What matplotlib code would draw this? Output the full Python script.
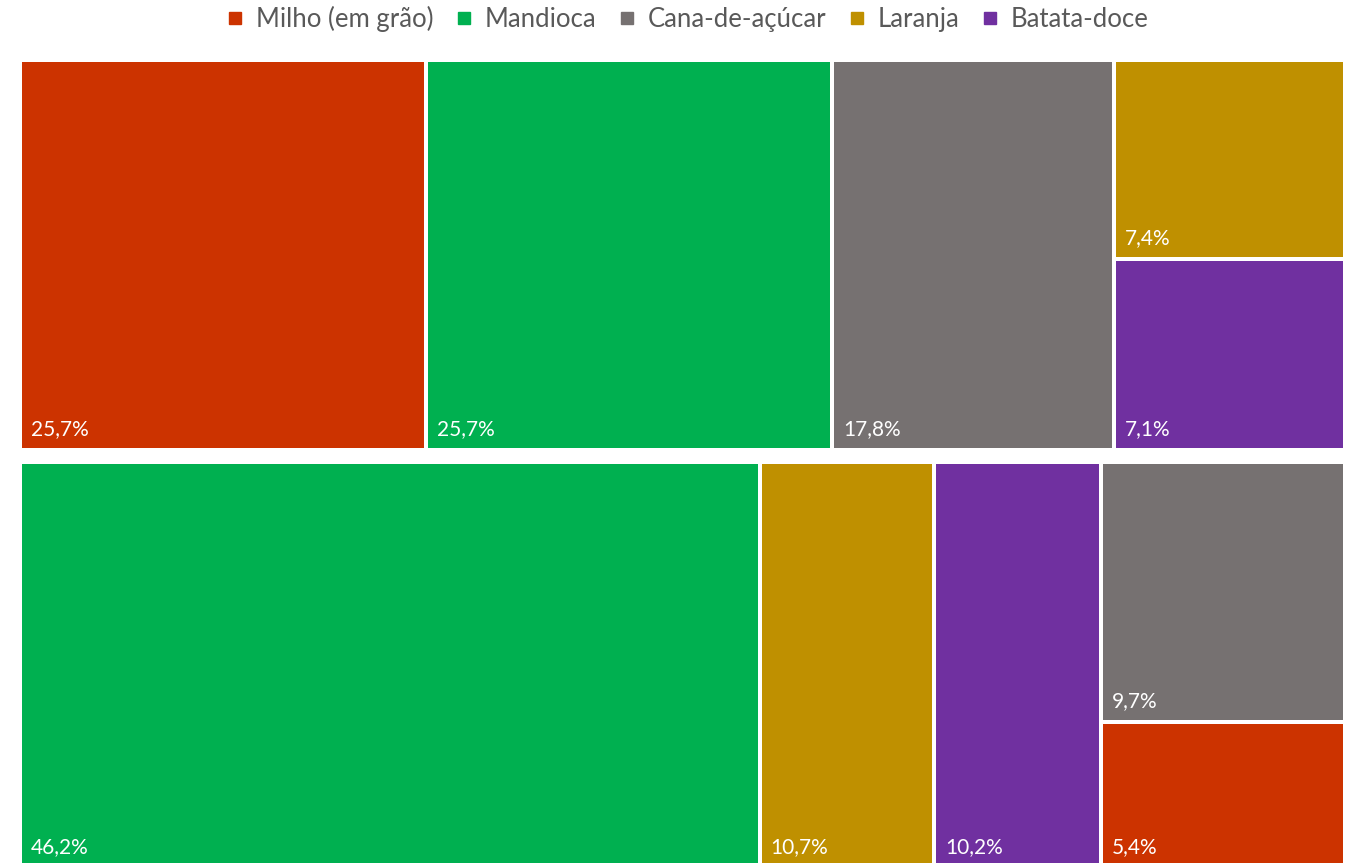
import matplotlib.pyplot as plt
from matplotlib.patches import Rectangle
from matplotlib.lines import Line2D

plt.rcParams['font.family'] = ['Lato', 'DejaVu Sans']

categories = ["Milho (em grão)", "Mandioca", "Cana-de-açúcar", "Laranja", "Batata-doce"]
colors = ["#CC3300", "#00B050", "#767171", "#BF9000", "#7030A0"]

# top group, columns left to right (stacked items inside a column)
top_cols = [["Milho (em grão)"], ["Mandioca"], ["Cana-de-açúcar"], ["Laranja", "Batata-doce"]]
top_vals = [[25.7], [25.7], [17.8], [7.4, 7.1]]

# bottom group
bot_cols = [["Mandioca"], ["Laranja"], ["Batata-doce"], ["Cana-de-açúcar", "Milho (em grão)"]]
bot_vals = [[46.2], [10.7], [10.2], [9.7, 5.4]]

group_weight = [0.49, 0.51]

color_of = dict(zip(categories, colors))

fig = plt.figure(figsize=(13.51, 8.63), dpi=100)
ax = fig.add_axes([0, 0, 1, 1])
ax.set_xlim(0, 1351)
ax.set_ylim(863, 0)
ax.axis("off")

left, right, top, bottom = 22, 1343, 62, 866
gap, group_gap = 4, 16


def draw_group(cols, vals, y0, y1):
    total = sum(sum(v) for v in vals)
    avail_w = (right - left) - gap * (len(cols) - 1)
    x = left
    for names, v in zip(cols, vals):
        w = avail_w * sum(v) / total
        avail_h = (y1 - y0) - gap * (len(v) - 1)
        y = y0
        for name, val in zip(names, v):
            h = avail_h * val / sum(v)
            ax.add_patch(Rectangle((x, y), w, h, facecolor=color_of[name], edgecolor="none"))
            ax.text(x + 9, y + h - 13, f"{val:.1f}%".replace(".", ","), color="white",
                    fontsize=15, ha="left", va="baseline")
            y += h + gap
        x += w + gap


avail = bottom - top - group_gap
h_top = avail * group_weight[0] / sum(group_weight)
draw_group(top_cols, top_vals, top, top + h_top)
draw_group(bot_cols, bot_vals, top + h_top + group_gap, bottom)

handles = [Line2D([], [], marker="s", linestyle="none", markersize=9,
                  markerfacecolor=c, markeredgecolor=c) for c in colors]
fig.legend(handles, categories, loc="upper center", bbox_to_anchor=(0.508, 1.02), ncol=5,
           frameon=False, fontsize=18.5, labelcolor="#595959", handletextpad=0.35,
           columnspacing=0.75, handlelength=0.9)

fig.savefig("out.png", dpi=100)
